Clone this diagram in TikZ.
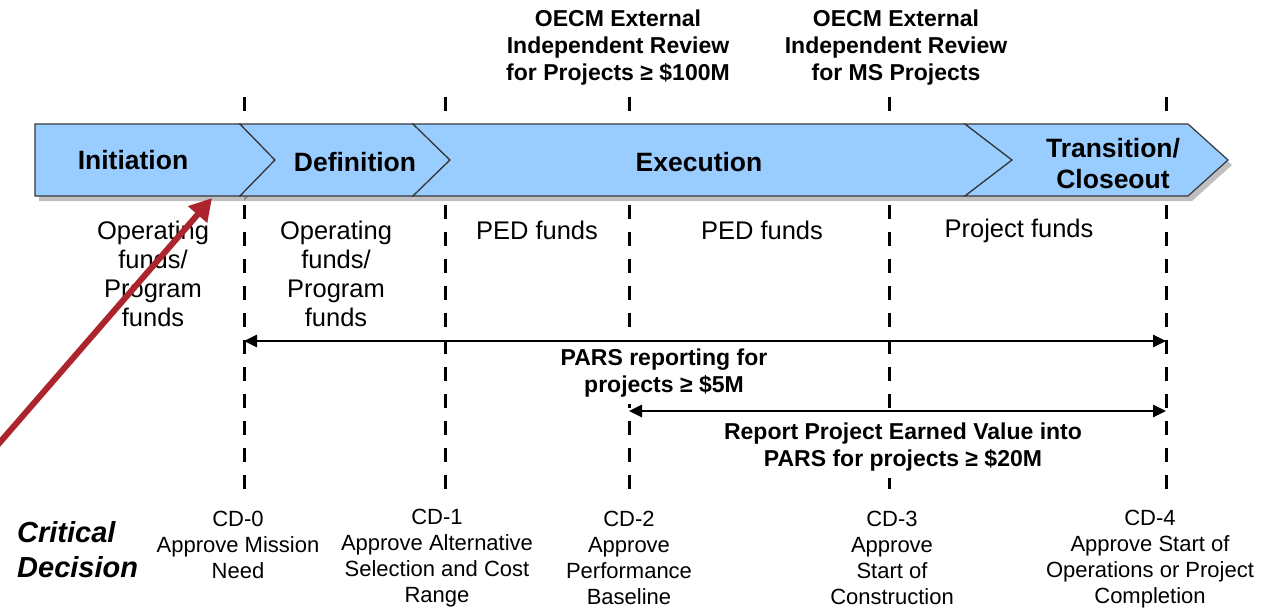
\documentclass[tikz,border=0pt]{standalone}
\usepackage{fontspec}
\setmainfont{Liberation Sans}
\usetikzlibrary{arrows.meta}
\definecolor{chev}{RGB}{153,204,255}
\definecolor{chevline}{RGB}{55,55,55}
\definecolor{redarrow}{RGB}{172,36,44}
\tikzset{
  chevron/.style={fill=chev, draw=chevline, line width=1.2pt, line join=miter},
  chevshadow/.style={fill=black, opacity=0.25},
  chevlabel/.style={font=\bfseries\fontsize{26.5}{31}\selectfont, align=center, inner sep=0pt},
  fundslabel/.style={font=\fontsize{25.5}{29}\selectfont, align=center, inner sep=0pt},
  reviewlabel/.style={font=\bfseries\fontsize{23}{27}\selectfont, align=center, inner sep=0pt},
  parslabel/.style={font=\bfseries\fontsize{23}{27.5}\selectfont, align=center, fill=white, inner xsep=1pt, inner ysep=7pt},
  cdlabel/.style={font=\fontsize{22}{26}\selectfont, align=center, inner sep=0pt},
  critlabel/.style={font=\bfseries\itshape\fontsize{29}{35}\selectfont, align=left, inner sep=0pt, anchor=west},
  milestone/.style={line width=3pt, dash pattern=on 14pt off 13pt},
  spanarrow/.style={line width=2.6pt, {Triangle[length=13pt,width=12pt]}-{Triangle[length=13pt,width=12pt]}},
  pointer/.style={draw=redarrow, line width=6pt, -{Triangle[length=22pt,width=24pt]}}
}
\begin{document}
\begin{tikzpicture}[x=1pt,y=-1pt]
\useasboundingbox (0,0) rectangle (1274,613);
\fill[white] (0,0) rectangle (1274,613);

% milestone coordinates
\foreach \n/\x in {0/244,1/445,2/629,3/889,4/1166}{
  \coordinate (top\n) at (\x,97);
  \coordinate (bot\n) at (\x,489);
  \coordinate (pars\n) at (\x,341);
  \coordinate (ev\n) at (\x,411);
  \draw[milestone] (top\n) -- (bot\n);
}

% span labels (cover the dashed lines)
\node[parslabel] (parstext) at (664,373) {PARS reporting for\\projects ≥ \$5M};
\node[parslabel] (evtext) at (903,447) {Report Project Earned Value into\\PARS for projects ≥ \$20M};

% span arrows
\draw[spanarrow] (pars0) -- (pars4);
\draw[spanarrow] (ev2) -- (ev4);

% chevron shadows
\begin{scope}[xshift=4pt,yshift=-5pt]
\fill[chevshadow] (35,124) -- (240,124) -- (275,160) -- (240,196) -- (35,196) -- cycle;
\fill[chevshadow] (240,124) -- (1188,124) -- (1228,160) -- (1188,196) -- (240,196) -- cycle;
\end{scope}

% chevrons
\draw[chevron] (35,124) -- (240,124) -- (275,160) -- (240,196) -- (35,196) -- cycle;
\draw[chevron] (240,124) -- (413,124) -- (450,160) -- (413,196) -- (240,196) -- (275,160) -- cycle;
\draw[chevron] (413,124) -- (965,124) -- (1012,160) -- (965,196) -- (413,196) -- (450,160) -- cycle;
\draw[chevron] (965,124) -- (1188,124) -- (1228,160) -- (1188,196) -- (965,196) -- (1012,160) -- cycle;

\node[chevlabel] (init) at (133,160) {Initiation};
\node[chevlabel] (defn) at (355,162) {Definition};
\node[chevlabel] (exec) at (699,162) {Execution};
\node[chevlabel] (trans) at (1113,164) {Transition/\\Closeout};

% reviews
\node[reviewlabel] (rev1) at (618,48) {OECM External\\Independent Review\\for Projects ≥ \$100M};
\node[reviewlabel] (rev2) at (896,48) {OECM External\\Independent Review\\for MS Projects};

% funds
\node[fundslabel] (f1) at (153,274) {Operating\\funds/\\Program\\funds};
\node[fundslabel] (f2) at (336,274) {Operating\\funds/\\Program\\funds};
\node[fundslabel] (f3) at (537,230) {PED funds};
\node[fundslabel] (f4) at (762,230) {PED funds};
\node[fundslabel] (f5) at (1019,231) {Project funds};

% critical decisions
\node[critlabel] (crit) at (17,550) {Critical\\Decision};
\node[cdlabel] (cd0) at (238,545) {CD-0\\Approve Mission\\Need};
\node[cdlabel] (cd1) at (437,558) {CD-1\\Approve Alternative\\Selection and Cost\\Range};
\node[cdlabel] (cd2) at (629,558) {CD-2\\Approve\\Performance\\Baseline};
\node[cdlabel] (cd3) at (892,558) {CD-3\\Approve\\Start of\\Construction};
\node[cdlabel] (cd4) at (1150,559) {CD-4\\Approve Start of\\Operations or Project\\Completion};

% red pointer
\coordinate (redstart) at (-5,448);
\coordinate (redtip) at (212,198);
\draw[pointer] (redstart) -- (redtip);
\end{tikzpicture}
\end{document}
